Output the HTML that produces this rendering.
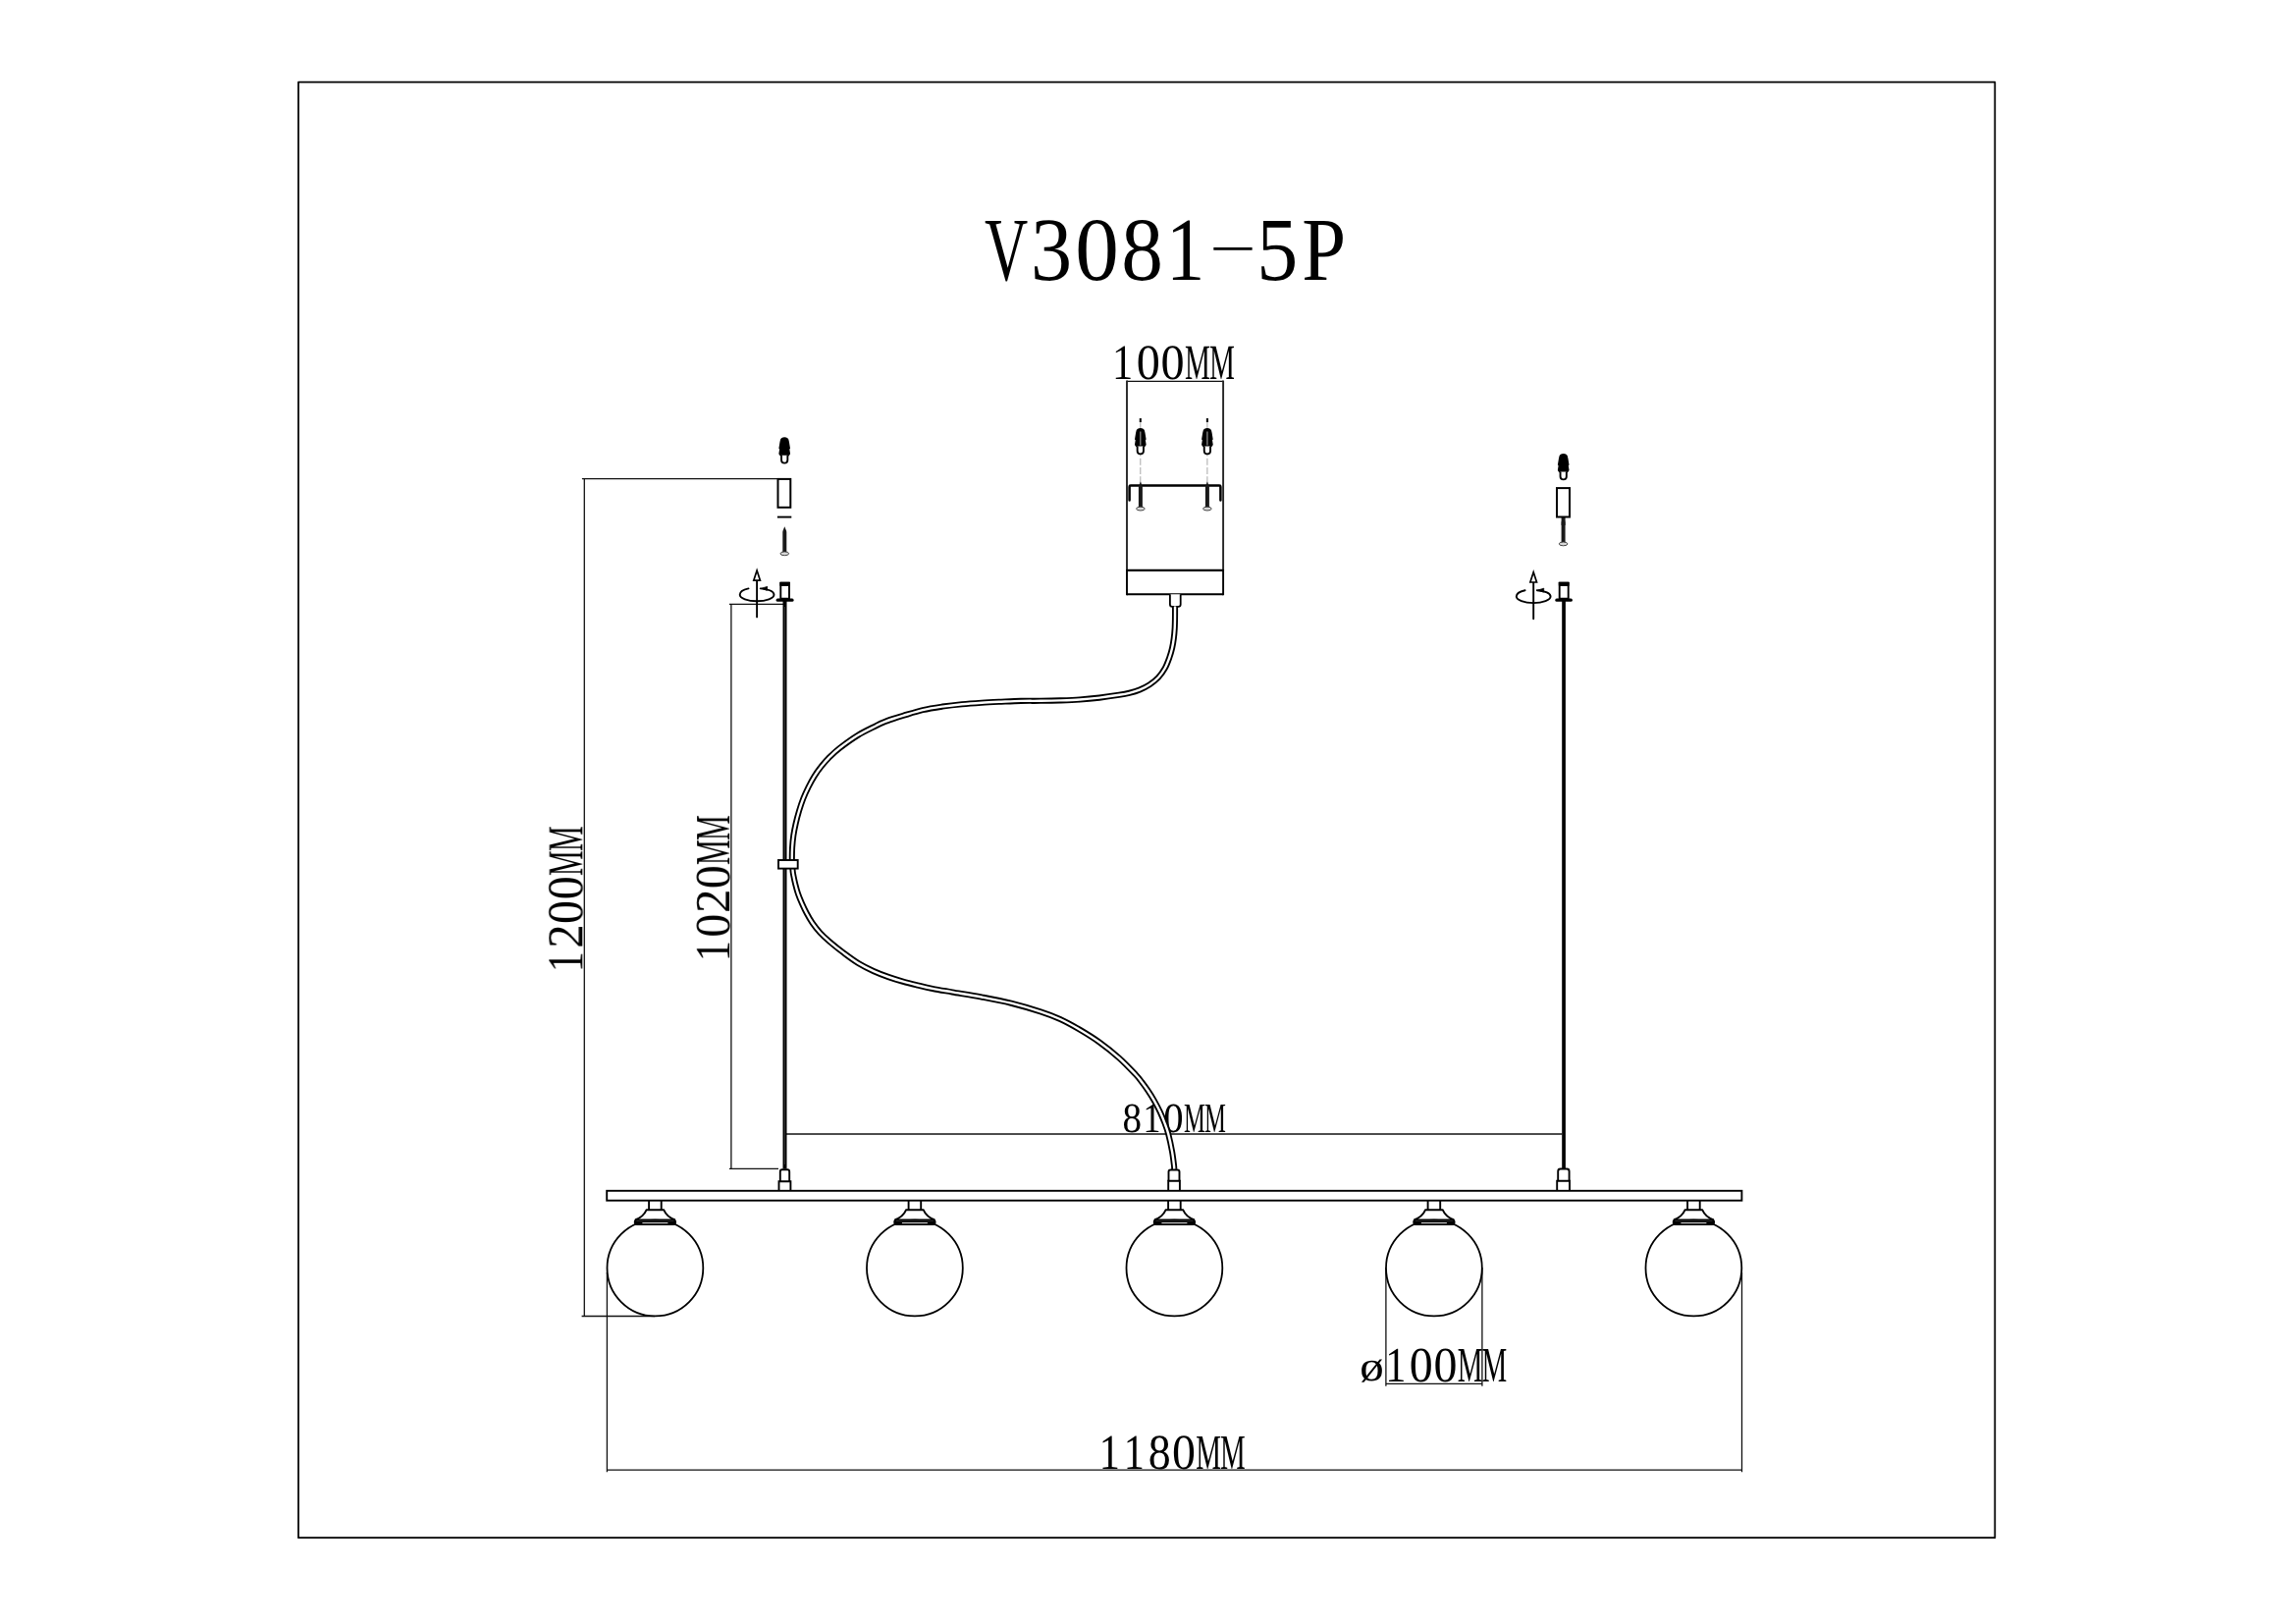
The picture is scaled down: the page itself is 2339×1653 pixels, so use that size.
<!DOCTYPE html>
<html lang="en">
<head>
<meta charset="utf-8">
<title>V3081-5P</title>
<style>
html,body{margin:0;padding:0;background:#fff;}
body{width:2339px;height:1653px;overflow:hidden;font-family:"Liberation Serif",serif;}
svg{display:block;}
</style>
</head>
<body>
<svg width="2339" height="1653" viewBox="0 0 2339 1653">
<rect x="0" y="0" width="2339" height="1653" fill="#fff"/>
<rect x="304" y="83.7" width="1728.3" height="1482.5" fill="none" stroke="#000" stroke-width="1.75" stroke-linejoin="round"/>
<g font-family="'Liberation Serif', serif" font-size="100" fill="#000" text-rendering="geometricPrecision" style="opacity:0.999">
<text transform="translate(1003.04 284.60) scale(0.6127 0.9180)">V</text>
<text transform="translate(1050.09 284.60) scale(0.8415 0.9180)">3</text>
<text transform="translate(1095.30 284.60) scale(0.8919 0.9180)">0</text>
<text transform="translate(1142.24 284.60) scale(0.8538 0.9180)">8</text>
<text transform="translate(1187.91 284.60) scale(0.7857 0.9180)">1</text>
<rect x="1236.31" y="252.01" width="39.32" height="2.77"/>
<text transform="translate(1280.29 284.60) scale(0.8400 0.9180)">5</text>
<text transform="translate(1326.18 284.60) scale(0.8070 0.9180)">P</text>
<text transform="translate(1132.93 386.40) scale(0.4252 0.5090)">1</text>
<text transform="translate(1157.66 386.40) scale(0.4827 0.5090)">0</text>
<text transform="translate(1182.61 386.40) scale(0.4827 0.5090)">0</text>
<text transform="translate(1207.06 386.40) scale(0.2912 0.5090)">M</text>
<text transform="translate(1232.01 386.40) scale(0.2912 0.5090)">M</text>
<text transform="translate(1143.53 1153.40) scale(0.3903 0.4287)">8</text>
<text transform="translate(1164.40 1153.40) scale(0.3591 0.4287)">1</text>
<text transform="translate(1185.28 1153.40) scale(0.4077 0.4287)">0</text>
<text transform="translate(1205.93 1153.40) scale(0.2459 0.4287)">M</text>
<text transform="translate(1227.00 1153.40) scale(0.2459 0.4287)">M</text>
<text transform="translate(1385.31 1405.73) scale(0.4901 0.4315)">ø</text>
<text transform="translate(1411.13 1407.00) scale(0.4227 0.5029)">1</text>
<text transform="translate(1435.70 1407.00) scale(0.4798 0.5029)">0</text>
<text transform="translate(1460.50 1407.00) scale(0.4798 0.5029)">0</text>
<text transform="translate(1484.81 1407.00) scale(0.2895 0.5029)">M</text>
<text transform="translate(1509.61 1407.00) scale(0.2895 0.5029)">M</text>
<text transform="translate(1119.83 1495.50) scale(0.4227 0.5059)">1</text>
<text transform="translate(1144.63 1495.50) scale(0.4227 0.5059)">1</text>
<text transform="translate(1169.65 1495.50) scale(0.4593 0.5059)">8</text>
<text transform="translate(1194.00 1495.50) scale(0.4798 0.5059)">0</text>
<text transform="translate(1218.31 1495.50) scale(0.2895 0.5059)">M</text>
<text transform="translate(1243.11 1495.50) scale(0.2895 0.5059)">M</text>
<g transform="translate(593.3 991) rotate(-90)">
<text transform="translate(0.63 0.00) scale(0.4227 0.5135)">1</text>
<text transform="translate(25.13 0.00) scale(0.4887 0.5135)">2</text>
<text transform="translate(50.00 0.00) scale(0.4798 0.5135)">0</text>
<text transform="translate(74.80 0.00) scale(0.4798 0.5135)">0</text>
<text transform="translate(99.11 0.00) scale(0.2895 0.5135)">M</text>
<text transform="translate(123.91 0.00) scale(0.2895 0.5135)">M</text>
</g>
<g transform="translate(743.1 979.9) rotate(-90)">
<text transform="translate(0.63 0.00) scale(0.4227 0.5029)">1</text>
<text transform="translate(25.20 0.00) scale(0.4798 0.5029)">0</text>
<text transform="translate(49.93 0.00) scale(0.4887 0.5029)">2</text>
<text transform="translate(74.80 0.00) scale(0.4798 0.5029)">0</text>
<text transform="translate(99.11 0.00) scale(0.2895 0.5029)">M</text>
<text transform="translate(123.91 0.00) scale(0.2895 0.5029)">M</text>
</g>
</g>
<defs>
<g id="plug">
  <path d="M0,0 C2.4,0 3.7,1.2 4.1,2.4 L4.7,4.8 L5.8,11.6 L5.1,12.3 L5.85,17 L4.9,18.6 L4.1,19.3 L-4.1,19.3 L-4.9,18.6 L-5.85,17 L-5.1,12.3 L-5.8,11.6 L-4.7,4.8 L-4.1,2.4 C-3.7,1.2 -2.4,0 0,0 Z" fill="#000"/>
  <path d="M-3.15,18.5 V23.3 Q-3.15,26.45 0,26.45 Q3.15,26.45 3.15,23.3 V18.5" fill="#fff" stroke="#000" stroke-width="1.9"/>
</g>
<g id="screw">
  <path d="M0,-27.5 L1.6,-23.5 L2,-22 V-1 H-2 V-22 L-1.6,-23.5 Z" fill="#1a1a1a"/>
  <ellipse cx="0" cy="0" rx="4.3" ry="1.9" fill="#d8d8d8" stroke="#333" stroke-width="0.9"/>
</g>
<g id="rot">
  <path d="M0,49.4 V12" fill="none" stroke="#000" stroke-width="1.9" stroke-linecap="round"/>
  <path d="M0,2 L3.3,12.2 H-3.3 Z" fill="#fff" stroke="#000" stroke-width="1.7" stroke-linejoin="miter"/>
  <path d="M-8.6,20.4 C-14.5,21.6 -17.4,24 -17.4,26.8 C-17.4,30.4 -9.6,33.3 0,33.3 C9.6,33.3 17.4,30.4 17.4,26.8 C17.4,23.6 11.5,21.2 3.6,20.4" fill="none" stroke="#000" stroke-width="1.9" stroke-linecap="round"/>
  <path d="M4.6,20.2 L10.6,18.4 L10.2,22.4 Z" fill="#000" stroke="#000" stroke-width="0.8" stroke-linejoin="round"/>
</g>
<g id="holder">
  <!-- origin: x = globe centre, y = bar bottom line centre (1222.7) -->
  <path d="M-6.3,0 V9.6 M6.3,0 V9.6" fill="none" stroke="#000" stroke-width="1.9"/>
  <path d="M-20.4,19.7 C-14,17.4 -10.6,13.6 -8.9,9.6 H8.9 C10.6,13.6 14,17.4 20.4,19.7" fill="none" stroke="#000" stroke-width="1.9" stroke-linejoin="round"/>
  <rect x="-21.6" y="18.8" width="43.2" height="6.4" rx="3" ry="3" fill="#000"/>
  <rect x="-13" y="22.5" width="26" height="0.9" fill="#fff"/>
  <rect x="-19" y="20.75" width="38" height="0.5" fill="#555"/>
</g>
<g id="globe">
  <circle cx="0" cy="68.8" r="48.9" fill="#fff" stroke="#000" stroke-width="1.8"/>
  <use href="#holder"/>
</g>
</defs>
<g fill="none" stroke="#111" stroke-width="1.3">
<path d="M1148,388.4 H1246.1"/>
<path d="M592.9,487.7 H792 M595.3,487.7 V1340.5 M592.6,1340.5 H667"/>
<path d="M742.9,615.3 H798 M744.9,615.3 V1190.3 M742.9,1190.3 H793"/>
<path d="M801,1155 H1591.3"/>
<path d="M1411.9,1291 V1411.7 M1509.9,1291 V1411.7 M1411.9,1409.4 H1509.9"/>
<path d="M618.4,1296 V1499.2 M1774.5,1296 V1499.2 M618.4,1497.2 H1774.5"/>
</g>
<g fill="none" stroke="#262626" stroke-width="1.9">
<path d="M1148,387.6 V581 M1246.1,387.6 V581"/>
</g>
<g fill="none" stroke="#000" stroke-width="2.1">
<path d="M1148,580.9 H1246.1 M1148,605.2 H1246.1"/>
<path d="M1148,580 V606.2 M1246.1,580 V606.2" stroke-width="1.9"/>
<path d="M1191.9,605.2 V615.4 Q1191.9,617.8 1194.3,617.8 H1200.3 Q1202.7,617.8 1202.7,615.4 V605.2" stroke-width="1.8" fill="#fff"/>
</g>
<g fill="none" stroke="#a8a8a8" stroke-width="1" stroke-dasharray="7 2.2">
<path d="M1161.8,430 V492 M1229.9,430 V492"/>
</g>
<path d="M1161.8,426 V429.9 M1229.9,426 V429.9" stroke="#111" stroke-width="2.1" fill="none"/>
<use href="#plug" x="1161.8" y="435.9"/>
<use href="#plug" x="1229.9" y="435.9"/>
<path d="M1161.8,439.5 V453.5 M1229.9,439.5 V453.5" stroke="#8c8c8c" stroke-width="1.3" fill="none"/>
<path d="M1150.6,509.6 V495.8 Q1150.6,494.6 1151.8,494.6 H1242.2 Q1243.4,494.6 1243.4,495.8 V509.6" fill="none" stroke="#000" stroke-width="2.5" stroke-linecap="round"/>
<use href="#screw" x="1161.9" y="518.1"/>
<use href="#screw" x="1229.9" y="518.1"/>
<use href="#plug" x="799.2" y="445.2"/>
<rect x="792.5" y="487.9" width="12.8" height="28.9" fill="#fff" stroke="#000" stroke-width="2"/>
<path d="M791.9,526.6 H806.3" stroke="#000" stroke-width="1.9" fill="none"/>
<use href="#screw" x="799.3" y="563.8"/>
<use href="#rot" x="771.1" y="579"/>
<rect x="795.3" y="593.7" width="8.7" height="16" fill="#fff" stroke="#000" stroke-width="1.9"/>
<rect x="794.4" y="592.8" width="10.5" height="4.3" rx="0.8" fill="#000"/>
<rect x="790.6" y="609.4" width="18" height="3.4" rx="1.6" fill="#000"/>
<path d="M799.5,612 V1190.6" stroke="#000" stroke-width="4" fill="none"/>
<path d="M799.5,618 V1186" stroke="#444" stroke-width="0.8" fill="none"/>
<path d="M794.8,1203.3 V1193.2 Q794.8,1191.2 796.8,1191.2 H802.2 Q804.2,1191.2 804.2,1193.2 V1203.3" fill="#fff" stroke="#000" stroke-width="1.9"/>
<path d="M793.5,1212.8 V1203.3 H805.4 V1212.8" fill="#fff" stroke="#000" stroke-width="1.9"/>
<use href="#plug" x="1592.7" y="461.9"/>
<use href="#screw" x="1592.6" y="553.9"/>
<rect x="1590.6" y="527" width="4" height="8" fill="#1a1a1a"/>
<rect x="1586" y="497.1" width="13" height="29.4" fill="#fff" stroke="#000" stroke-width="2"/>
<use href="#rot" x="1562.2" y="580.8"/>
<rect x="1588.7" y="593.7" width="9" height="16" fill="#fff" stroke="#000" stroke-width="1.9"/>
<rect x="1587.8" y="592.8" width="10.8" height="4.3" rx="0.8" fill="#000"/>
<rect x="1584.3" y="609.4" width="17.6" height="3.4" rx="1.6" fill="#000"/>
<path d="M1593.05,612 V1190" stroke="#000" stroke-width="3.7" fill="none"/>
<path d="M1587.2,1202.8 V1193 Q1587.2,1190.5 1589.7,1190.5 H1596.1 Q1598.6,1190.5 1598.6,1193 V1202.8" fill="#fff" stroke="#000" stroke-width="1.9"/>
<path d="M1586.2,1212.8 V1202.8 H1599 V1212.8" fill="#fff" stroke="#000" stroke-width="1.9"/>
<path d="M1197.05,617.50 C1197.04,619.58 1197.06,626.25 1197.00,630.00 C1196.94,633.75 1196.90,636.67 1196.70,640.00 C1196.50,643.33 1196.23,646.67 1195.80,650.00 C1195.37,653.33 1194.87,656.67 1194.10,660.00 C1193.33,663.33 1192.42,666.58 1191.20,670.00 C1189.98,673.42 1188.67,677.17 1186.80,680.50 C1184.93,683.83 1182.60,687.22 1180.00,690.00 C1177.40,692.78 1174.40,695.10 1171.20,697.20 C1168.00,699.30 1164.25,701.17 1160.80,702.60 C1157.35,704.03 1153.97,704.93 1150.50,705.80 C1147.03,706.67 1145.08,707.00 1140.00,707.80 C1134.92,708.60 1126.67,709.82 1120.00,710.60 C1113.33,711.38 1106.67,712.03 1100.00,712.50 C1093.33,712.97 1086.67,713.18 1080.00,713.40 C1073.33,713.62 1066.67,713.72 1060.00,713.80 C1053.33,713.88 1046.67,713.75 1040.00,713.90 C1033.33,714.05 1026.67,714.40 1020.00,714.70 C1013.33,715.00 1006.67,715.28 1000.00,715.70 C993.33,716.12 986.67,716.55 980.00,717.20 C973.33,717.85 966.67,718.62 960.00,719.60 C953.33,720.58 946.67,721.55 940.00,723.10 C933.33,724.65 925.00,727.42 920.00,728.90 C915.00,730.38 913.33,730.88 910.00,732.00 C906.67,733.12 902.93,734.40 900.00,735.60 C897.07,736.80 896.73,737.00 892.40,739.20 C888.07,741.40 880.15,745.03 874.00,748.80 C867.85,752.57 860.25,758.15 855.50,761.80 C850.75,765.45 848.58,767.63 845.50,770.70 C842.42,773.77 839.65,776.88 837.00,780.20 C834.35,783.52 831.83,787.05 829.60,790.60 C827.37,794.15 825.50,797.68 823.60,801.50 C821.70,805.32 819.80,809.42 818.20,813.50 C816.60,817.58 815.27,821.75 814.00,826.00 C812.73,830.25 811.55,834.83 810.60,839.00 C809.65,843.17 808.88,847.00 808.30,851.00 C807.72,855.00 807.35,859.00 807.10,863.00 C806.85,867.00 806.82,872.17 806.80,875.00 C806.78,877.83 806.88,878.18 807.00,880.00 C807.12,881.82 807.33,884.23 807.50,885.90 C807.67,887.57 807.57,887.65 808.00,890.00 C808.43,892.35 809.28,896.67 810.10,900.00 C810.92,903.33 811.77,906.67 812.90,910.00 C814.03,913.33 815.43,916.67 816.90,920.00 C818.37,923.33 819.92,926.67 821.70,930.00 C823.48,933.33 825.30,936.67 827.60,940.00 C829.90,943.33 832.53,946.78 835.50,950.00 C838.47,953.22 841.32,955.82 845.40,959.30 C849.48,962.78 855.07,967.22 860.00,970.90 C864.93,974.58 870.00,978.37 875.00,981.40 C880.00,984.43 885.00,986.83 890.00,989.10 C895.00,991.37 900.00,993.23 905.00,995.00 C910.00,996.77 915.00,998.28 920.00,999.70 C925.00,1001.12 930.00,1002.30 935.00,1003.50 C940.00,1004.70 944.17,1005.75 950.00,1006.90 C955.83,1008.05 961.67,1008.97 970.00,1010.40 C978.33,1011.83 990.00,1013.62 1000.00,1015.50 C1010.00,1017.38 1020.00,1019.22 1030.00,1021.70 C1040.00,1024.18 1051.67,1027.68 1060.00,1030.40 C1068.33,1033.12 1073.33,1034.95 1080.00,1038.00 C1086.67,1041.05 1093.33,1044.78 1100.00,1048.70 C1106.67,1052.62 1113.33,1056.70 1120.00,1061.50 C1126.67,1066.30 1133.83,1072.00 1140.00,1077.50 C1146.17,1083.00 1153.15,1090.43 1157.00,1094.50 C1160.85,1098.57 1161.05,1099.23 1163.10,1101.90 C1165.15,1104.57 1167.23,1107.42 1169.30,1110.50 C1171.37,1113.58 1173.45,1116.80 1175.50,1120.40 C1177.55,1124.00 1179.77,1128.20 1181.60,1132.10 C1183.43,1136.00 1185.07,1140.00 1186.50,1143.80 C1187.93,1147.60 1188.95,1150.12 1190.20,1154.90 C1191.45,1159.68 1193.03,1167.15 1194.00,1172.50 C1194.97,1177.85 1195.63,1183.92 1196.00,1187.00 C1196.37,1190.08 1196.17,1190.33 1196.20,1191.00" fill="none" stroke="#000" stroke-width="6.1"/>
<path d="M1197.05,617.50 C1197.04,619.58 1197.06,626.25 1197.00,630.00 C1196.94,633.75 1196.90,636.67 1196.70,640.00 C1196.50,643.33 1196.23,646.67 1195.80,650.00 C1195.37,653.33 1194.87,656.67 1194.10,660.00 C1193.33,663.33 1192.42,666.58 1191.20,670.00 C1189.98,673.42 1188.67,677.17 1186.80,680.50 C1184.93,683.83 1182.60,687.22 1180.00,690.00 C1177.40,692.78 1174.40,695.10 1171.20,697.20 C1168.00,699.30 1164.25,701.17 1160.80,702.60 C1157.35,704.03 1153.97,704.93 1150.50,705.80 C1147.03,706.67 1145.08,707.00 1140.00,707.80 C1134.92,708.60 1126.67,709.82 1120.00,710.60 C1113.33,711.38 1106.67,712.03 1100.00,712.50 C1093.33,712.97 1086.67,713.18 1080.00,713.40 C1073.33,713.62 1066.67,713.72 1060.00,713.80 C1053.33,713.88 1046.67,713.75 1040.00,713.90 C1033.33,714.05 1026.67,714.40 1020.00,714.70 C1013.33,715.00 1006.67,715.28 1000.00,715.70 C993.33,716.12 986.67,716.55 980.00,717.20 C973.33,717.85 966.67,718.62 960.00,719.60 C953.33,720.58 946.67,721.55 940.00,723.10 C933.33,724.65 925.00,727.42 920.00,728.90 C915.00,730.38 913.33,730.88 910.00,732.00 C906.67,733.12 902.93,734.40 900.00,735.60 C897.07,736.80 896.73,737.00 892.40,739.20 C888.07,741.40 880.15,745.03 874.00,748.80 C867.85,752.57 860.25,758.15 855.50,761.80 C850.75,765.45 848.58,767.63 845.50,770.70 C842.42,773.77 839.65,776.88 837.00,780.20 C834.35,783.52 831.83,787.05 829.60,790.60 C827.37,794.15 825.50,797.68 823.60,801.50 C821.70,805.32 819.80,809.42 818.20,813.50 C816.60,817.58 815.27,821.75 814.00,826.00 C812.73,830.25 811.55,834.83 810.60,839.00 C809.65,843.17 808.88,847.00 808.30,851.00 C807.72,855.00 807.35,859.00 807.10,863.00 C806.85,867.00 806.82,872.17 806.80,875.00 C806.78,877.83 806.88,878.18 807.00,880.00 C807.12,881.82 807.33,884.23 807.50,885.90 C807.67,887.57 807.57,887.65 808.00,890.00 C808.43,892.35 809.28,896.67 810.10,900.00 C810.92,903.33 811.77,906.67 812.90,910.00 C814.03,913.33 815.43,916.67 816.90,920.00 C818.37,923.33 819.92,926.67 821.70,930.00 C823.48,933.33 825.30,936.67 827.60,940.00 C829.90,943.33 832.53,946.78 835.50,950.00 C838.47,953.22 841.32,955.82 845.40,959.30 C849.48,962.78 855.07,967.22 860.00,970.90 C864.93,974.58 870.00,978.37 875.00,981.40 C880.00,984.43 885.00,986.83 890.00,989.10 C895.00,991.37 900.00,993.23 905.00,995.00 C910.00,996.77 915.00,998.28 920.00,999.70 C925.00,1001.12 930.00,1002.30 935.00,1003.50 C940.00,1004.70 944.17,1005.75 950.00,1006.90 C955.83,1008.05 961.67,1008.97 970.00,1010.40 C978.33,1011.83 990.00,1013.62 1000.00,1015.50 C1010.00,1017.38 1020.00,1019.22 1030.00,1021.70 C1040.00,1024.18 1051.67,1027.68 1060.00,1030.40 C1068.33,1033.12 1073.33,1034.95 1080.00,1038.00 C1086.67,1041.05 1093.33,1044.78 1100.00,1048.70 C1106.67,1052.62 1113.33,1056.70 1120.00,1061.50 C1126.67,1066.30 1133.83,1072.00 1140.00,1077.50 C1146.17,1083.00 1153.15,1090.43 1157.00,1094.50 C1160.85,1098.57 1161.05,1099.23 1163.10,1101.90 C1165.15,1104.57 1167.23,1107.42 1169.30,1110.50 C1171.37,1113.58 1173.45,1116.80 1175.50,1120.40 C1177.55,1124.00 1179.77,1128.20 1181.60,1132.10 C1183.43,1136.00 1185.07,1140.00 1186.50,1143.80 C1187.93,1147.60 1188.95,1150.12 1190.20,1154.90 C1191.45,1159.68 1193.03,1167.15 1194.00,1172.50 C1194.97,1177.85 1195.63,1183.92 1196.00,1187.00 C1196.37,1190.08 1196.17,1190.33 1196.20,1191.00" fill="none" stroke="#fff" stroke-width="2.4"/>
<rect x="793" y="876" width="19.7" height="8.6" fill="#fff" stroke="#000" stroke-width="1.9"/>
<path d="M1190.5,1202.8 V1193.6 Q1190.5,1191.5 1192.6,1191.5 H1199.4 Q1201.5,1191.5 1201.5,1193.6 V1202.8" fill="#fff" stroke="#000" stroke-width="1.9"/>
<path d="M1190.2,1212.8 V1202.8 H1201.9 V1212.8" fill="#fff" stroke="#000" stroke-width="1.9"/>
<rect x="618.2" y="1212.8" width="1156.2" height="9.9" fill="#fff" stroke="#000" stroke-width="1.9"/>
<use href="#globe" x="667.4" y="1222.7"/>
<use href="#globe" x="931.9" y="1222.7"/>
<use href="#globe" x="1196.4" y="1222.7"/>
<use href="#globe" x="1460.9" y="1222.7"/>
<use href="#globe" x="1725.4" y="1222.7"/>
</svg>
</body>
</html>
